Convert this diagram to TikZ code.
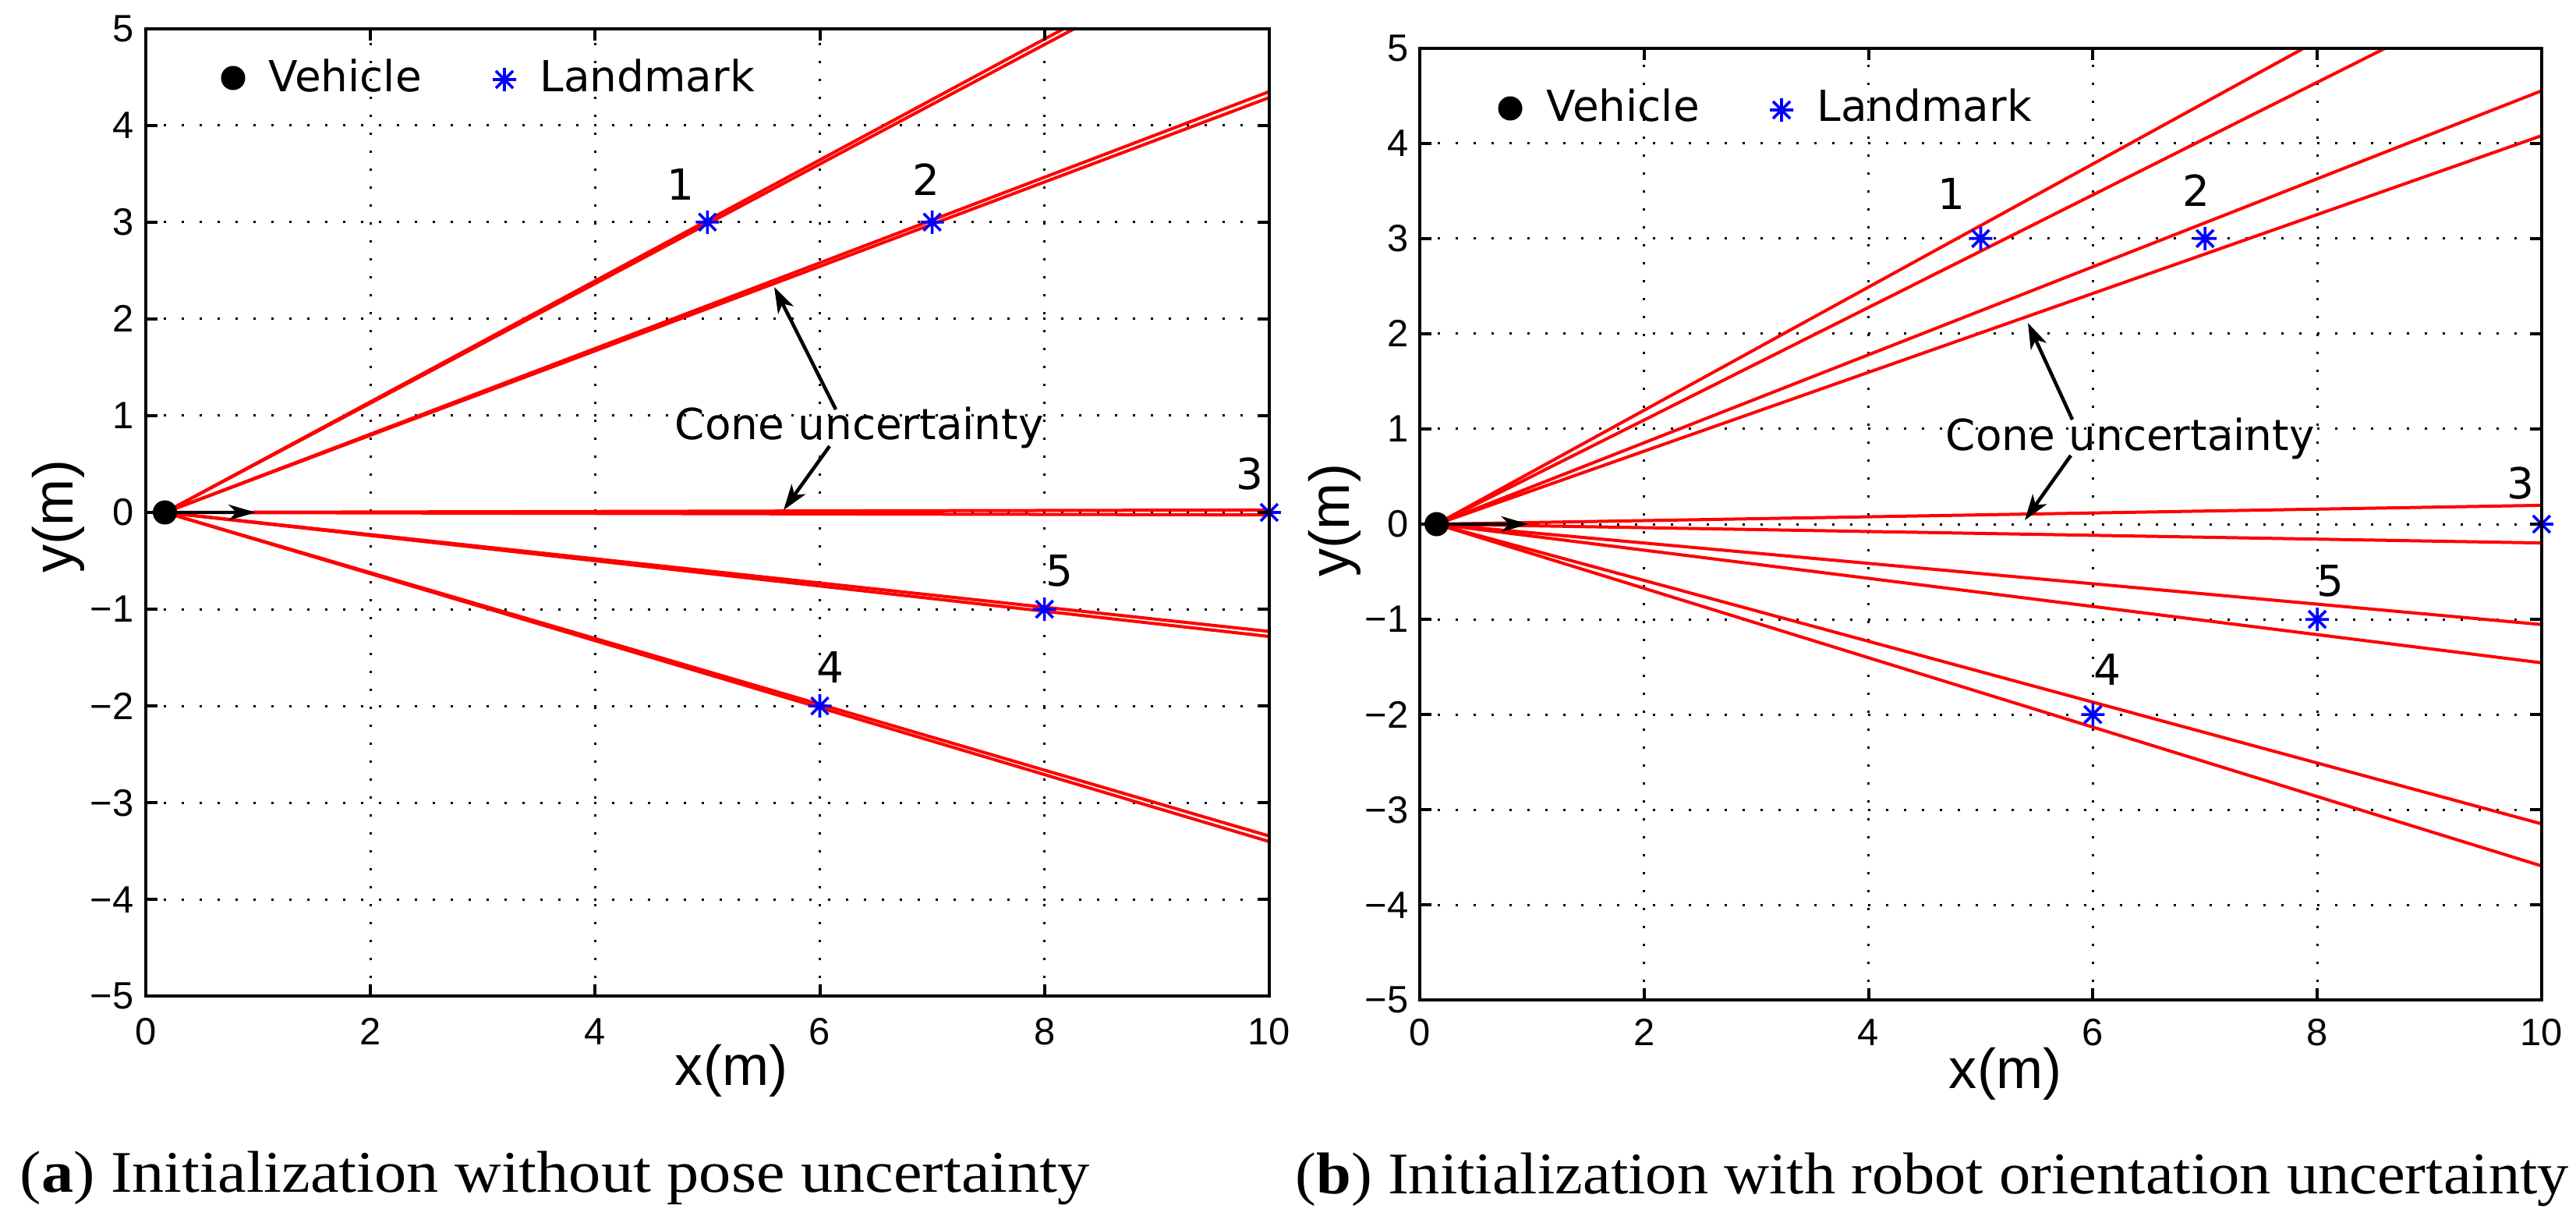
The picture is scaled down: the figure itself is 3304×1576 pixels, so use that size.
\documentclass[tikz,border=0pt]{standalone}
\usepackage{fontspec}
\usepackage{graphicx}
\usetikzlibrary{arrows.meta}
\newfontfamily\dejavu{DejaVu Sans}
\newfontfamily\helv{Liberation Sans}
\newfontfamily\capserif{Liberation Serif}
\definecolor{mred}{RGB}{255,0,0}
\definecolor{mblue}{RGB}{0,0,255}
\tikzset{
  axbox/.style={line width=0.04cm, line cap=rect},
  gridln/.style={line width=0.03cm, dash pattern=on 0.03cm off 0.20cm},
  tickln/.style={line width=0.04cm},
  cone/.style={mred, line width=0.04cm},
  ticklbl/.style={font=\helv\fontsize{13.9pt}{16pt}\selectfont, inner sep=0pt},
  axlbl/.style={font=\helv\fontsize{20.5pt}{24pt}\selectfont, inner sep=0pt},
  numlbl/.style={font=\dejavu\fontsize{15.6pt}{18pt}\selectfont, inner sep=0pt},
  legtxt/.style={font=\dejavu\fontsize{15.6pt}{18pt}\selectfont, inner sep=0pt, anchor=base west},
  vehdot/.style={circle, fill=black, inner sep=0pt, minimum size=0.31cm},
  veharrow/.style={-{Stealth[length=0.35cm, width=0.20cm, inset=0.10cm]}, line width=0.045cm},
  notearrow/.style={-{Stealth[length=0.33cm, width=0.22cm, inset=0.09cm]}, line width=0.045cm},
  lmkstar/.pic={\draw[mblue, line width=0.036cm] (-0.15cm,0)--(0.15cm,0) (0,-0.15cm)--(0,0.15cm) (-0.11cm,-0.11cm)--(0.11cm,0.11cm) (-0.11cm,0.11cm)--(0.11cm,-0.11cm);},
  captxt/.style={font=\capserif\fontsize{21.5pt}{26pt}\selectfont, inner sep=0pt, anchor=base west},
}
\begin{document}
\begin{tikzpicture}[x=0.01cm, y=-0.01cm]
\useasboundingbox (0,0) rectangle (3304,1576);

%================ Plot (a) ================
\begin{scope}[shift={(187,657)}, x=1.44cm, y=1.24cm]
  \def\vx{0.17}\def\dl{0.15}
  \foreach \k in {2,4,6,8} \draw[gridln] (\k,-5) -- (\k,5);
  \foreach \k in {-4,...,4} \draw[gridln] (0,\k) -- (10,\k);
  \coordinate (a-v) at (\vx,0);
  \foreach \i/\lx/\ly in {1/5/3,2/7/3,3/10/0,4/6/-2,5/8/-1} {
    \foreach \s/\sg in {p/1,m/-1} {
      \pgfmathsetmacro\ang{atan2(\ly,\lx-\vx)+\sg*\dl}
      \pgfmathsetmacro\rx{(10-\vx)/cos(\ang)}
      \pgfmathsetmacro\ry{abs(sin(\ang))>0.0001 ? 5/abs(sin(\ang)) : 100}
      \pgfmathsetmacro\rr{min(\rx,\ry)}
      \coordinate (a-e\i\s) at ({\vx+\rr*cos(\ang)},{\rr*sin(\ang)});
      \draw[cone] (a-v) -- (a-e\i\s);
    }
  }
  \foreach \i/\lx/\ly in {1/5/3,2/7/3,3/10/0,4/6/-2,5/8/-1} {
    \coordinate (a-l\i) at (\lx,\ly);
    \pic at (a-l\i) {lmkstar};
  }
  \node[vehdot] (a-veh) at (a-v) {};
  \coordinate (a-vend) at (0.98,0);
  \draw[veharrow] (a-veh.center) -- (a-vend);
  % landmark numbers
  \node[numlbl, xshift=-0.34cm, yshift=0.48cm] (a-n1) at (a-l1) {1};
  \node[numlbl, xshift=-0.08cm, yshift=0.55cm] (a-n2) at (a-l2) {2};
  \node[numlbl, xshift=-0.25cm, yshift=0.49cm] (a-n3) at (a-l3) {3};
  \node[numlbl, xshift=0.13cm, yshift=0.50cm] (a-n4) at (a-l4) {4};
  \node[numlbl, xshift=0.19cm, yshift=0.49cm] (a-n5) at (a-l5) {5};
  % axes box and ticks
  \draw[axbox] (0,-5) rectangle (10,5);
  \foreach \k in {0,2,...,10} {
    \draw[tickln] (\k,-5) -- ++(0,0.15cm);
    \draw[tickln] (\k,5) -- ++(0,-0.15cm);
  }
  \foreach \k in {-5,...,5} {
    \draw[tickln] (0,\k) -- ++(0.15cm,0);
    \draw[tickln] (10,\k) -- ++(-0.15cm,0);
  }
  \foreach \k [count=\n] in {0,2,4,6,8,10}
    \node[ticklbl] (a-xt\n) at (\k,-5.363) {\k};
  \foreach \k/\t [count=\n] in {5/5,4/4,3/3,2/2,1/1,0/0,-1/−1,-2/−2,-3/−3,-4/−4,-5/−5}
    \node[ticklbl, anchor=east] (a-yt\n) at (-0.104,\k) {\t};
\end{scope}
\node[axlbl, rotate=90] (a-ylab) at (75,662) {y(m)};
\node[axlbl] (a-xlab) at (938,1373) {x(m)};
% legend (a)
\node[vehdot] (a-legveh) at (299,100) {};
\node[legtxt] (a-legvt) at (344,117) {Vehicle};
\coordinate (a-legstar) at (647,102);
\pic at (a-legstar) {lmkstar};
\node[legtxt] (a-leglt) at (692,117) {Landmark};
% cone uncertainty note (a)
\node[legtxt] (a-cone) at (865,563) {Cone uncertainty};
\coordinate (a-ar1s) at (1072,525);
\coordinate (a-ar1t) at (993,368);
\coordinate (a-ar2s) at (1064,572);
\coordinate (a-ar2t) at (1005,654);
\draw[notearrow] (a-ar1s) -- (a-ar1t);
\draw[notearrow] (a-ar2s) -- (a-ar2t);

%================ Plot (b) ================
\begin{scope}[shift={(1821,672)}, x=1.438cm, y=1.22cm]
  \def\vx{0.15}\def\dl{1.15}
  \foreach \k in {2,4,6,8} \draw[gridln] (\k,-5) -- (\k,5);
  \foreach \k in {-4,...,4} \draw[gridln] (0,\k) -- (10,\k);
  \coordinate (b-v) at (\vx,0);
  \foreach \i/\lx/\ly in {1/5/3,2/7/3,3/10/0,4/6/-2,5/8/-1} {
    \foreach \s/\sg in {p/1,m/-1} {
      \pgfmathsetmacro\ang{atan2(\ly,\lx-\vx)+\sg*\dl}
      \pgfmathsetmacro\rx{(10-\vx)/cos(\ang)}
      \pgfmathsetmacro\ry{abs(sin(\ang))>0.0001 ? 5/abs(sin(\ang)) : 100}
      \pgfmathsetmacro\rr{min(\rx,\ry)}
      \coordinate (b-e\i\s) at ({\vx+\rr*cos(\ang)},{\rr*sin(\ang)});
      \draw[cone] (b-v) -- (b-e\i\s);
    }
  }
  \foreach \i/\lx/\ly in {1/5/3,2/7/3,3/10/0,4/6/-2,5/8/-1} {
    \coordinate (b-l\i) at (\lx,\ly);
    \pic at (b-l\i) {lmkstar};
  }
  \node[vehdot] (b-veh) at (b-v) {};
  \coordinate (b-vend) at (0.97,0);
  \draw[veharrow] (b-veh.center) -- (b-vend);
  \node[numlbl, xshift=-0.37cm, yshift=0.57cm] (b-n1) at (b-l1) {1};
  \node[numlbl, xshift=-0.11cm, yshift=0.62cm] (b-n2) at (b-l2) {2};
  \node[numlbl, xshift=-0.27cm, yshift=0.52cm] (b-n3) at (b-l3) {3};
  \node[numlbl, xshift=0.19cm, yshift=0.58cm] (b-n4) at (b-l4) {4};
  \node[numlbl, xshift=0.17cm, yshift=0.49cm] (b-n5) at (b-l5) {5};
  \draw[axbox] (0,-5) rectangle (10,5);
  \foreach \k in {0,2,...,10} {
    \draw[tickln] (\k,-5) -- ++(0,0.15cm);
    \draw[tickln] (\k,5) -- ++(0,-0.15cm);
  }
  \foreach \k in {-5,...,5} {
    \draw[tickln] (0,\k) -- ++(0.15cm,0);
    \draw[tickln] (10,\k) -- ++(-0.15cm,0);
  }
  \foreach \k [count=\n] in {0,2,4,6,8,10}
    \node[ticklbl] (b-xt\n) at (\k,-5.336) {\k};
  \foreach \k/\t [count=\n] in {5/5,4/4,3/3,2/2,1/1,0/0,-1/−1,-2/−2,-3/−3,-4/−4,-5/−5}
    \node[ticklbl, anchor=east] (b-yt\n) at (-0.097,\k) {\t};
\end{scope}
\node[axlbl, rotate=90] (b-ylab) at (1712,667) {y(m)};
\node[axlbl] (b-xlab) at (2572,1377) {x(m)};
% legend (b)
\node[vehdot] (b-legveh) at (1937,139) {};
\node[legtxt] (b-legvt) at (1983,156) {Vehicle};
\coordinate (b-legstar) at (2285,141);
\pic at (b-legstar) {lmkstar};
\node[legtxt] (b-leglt) at (2330,156) {Landmark};
% cone uncertainty note (b)
\node[legtxt] (b-cone) at (2495,577) {Cone uncertainty};
\coordinate (b-ar1s) at (2658,538);
\coordinate (b-ar1t) at (2601,414);
\coordinate (b-ar2s) at (2656,584);
\coordinate (b-ar2t) at (2597,667);
\draw[notearrow] (b-ar1s) -- (b-ar1t);
\draw[notearrow] (b-ar2s) -- (b-ar2t);

%================ Captions ================
\node[captxt] (capa) at (25,1528) {\resizebox{13.71cm}{\height}{(\textbf{a}) Initialization without pose uncertainty}};
\node[captxt] (capb) at (1661,1530) {\resizebox{16.32cm}{\height}{(\textbf{b}) Initialization with robot orientation uncertainty}};
\end{tikzpicture}
\end{document}
